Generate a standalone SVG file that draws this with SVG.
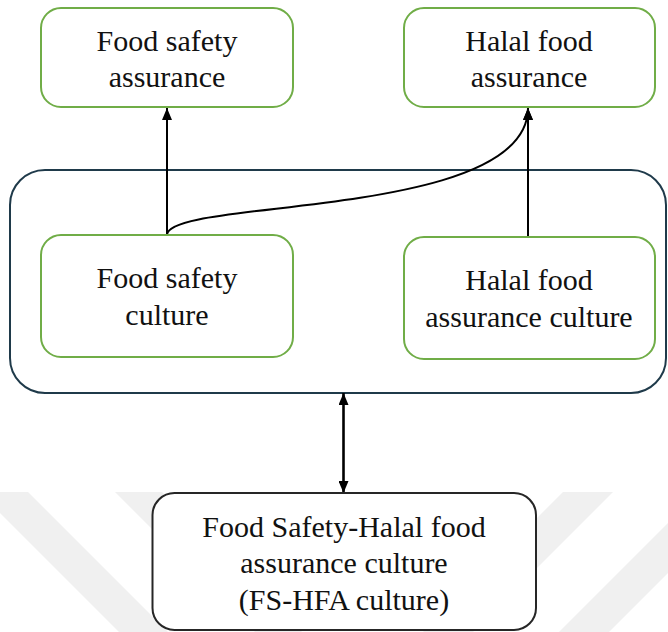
<svg xmlns="http://www.w3.org/2000/svg" width="668" height="632" viewBox="0 0 668 632">
  <defs>
    <style>
      .wm { fill: #f0f0f0; }
      .gbox { fill: #ffffff; stroke: #70ad47; stroke-width: 2; }
      .cont { fill: none; stroke: #1f3a4a; stroke-width: 2; }
      .bbox { fill: #ffffff; stroke: #262626; stroke-width: 2; }
      .lbl { font-family: "Liberation Serif", "Times New Roman", serif; font-size: 30px; fill: #111111; text-anchor: middle; }
      .conn { fill: none; stroke: #000000; stroke-width: 2; }
      .conn2 { fill: none; stroke: #000000; stroke-width: 2.6; }
    </style>
    <marker id="arr" viewBox="0 0 12 10" refX="12" refY="5" markerWidth="12" markerHeight="10" markerUnits="userSpaceOnUse" orient="auto-start-reverse">
      <path d="M0,0 L12,5 L0,10 Z" fill="#000000"/>
    </marker>
  </defs>

  <g id="watermark">
    <polygon class="wm" points="-21,492 28,492 168,632 119,632"/>
    <polygon class="wm" points="115,492 162,492 302,632 255,632"/>
    <polygon class="wm" points="563,492 613,492 473,632 423,632"/>
    <polygon class="wm" points="699,492 749,492 609,632 559,632"/>
  </g>

  <g id="container">
    <rect class="cont" x="10" y="170" width="656" height="223" rx="35" ry="35"/>
  </g>

  <g id="connectors">
    <line class="conn" x1="167" y1="235" x2="167" y2="108" marker-end="url(#arr)"/>
    <line class="conn" x1="528" y1="237" x2="528" y2="108" marker-end="url(#arr)"/>
    <path class="conn" d="M167,235 C167,198 528,220 528,108" marker-end="url(#arr)"/>
    <line class="conn2" x1="343.5" y1="393" x2="343.5" y2="493" marker-start="url(#arr)" marker-end="url(#arr)"/>
  </g>

  <g id="food-safety-assurance">
    <rect class="gbox" x="41" y="8" width="252" height="99" rx="20" ry="20"/>
    <text class="lbl" x="167" y="51">Food safety</text>
    <text class="lbl" x="167" y="87">assurance</text>
  </g>

  <g id="halal-food-assurance">
    <rect class="gbox" x="404" y="8" width="251" height="99" rx="20" ry="20"/>
    <text class="lbl" x="529" y="51">Halal food</text>
    <text class="lbl" x="529" y="87">assurance</text>
  </g>

  <g id="food-safety-culture">
    <rect class="gbox" x="41" y="235" width="252" height="122" rx="20" ry="20"/>
    <text class="lbl" x="167" y="288">Food safety</text>
    <text class="lbl" x="167" y="325">culture</text>
  </g>

  <g id="halal-food-assurance-culture">
    <rect class="gbox" x="404" y="237" width="251" height="122" rx="20" ry="20"/>
    <text class="lbl" x="529" y="290">Halal food</text>
    <text class="lbl" x="529" y="327">assurance culture</text>
  </g>

  <g id="fs-hfa-culture">
    <rect class="bbox" x="152.5" y="493" width="383.5" height="137" rx="22" ry="22"/>
    <text class="lbl" x="344" y="537">Food Safety-Halal food</text>
    <text class="lbl" x="344" y="573">assurance culture</text>
    <text class="lbl" x="344" y="610">(FS-HFA culture)</text>
  </g>
</svg>
